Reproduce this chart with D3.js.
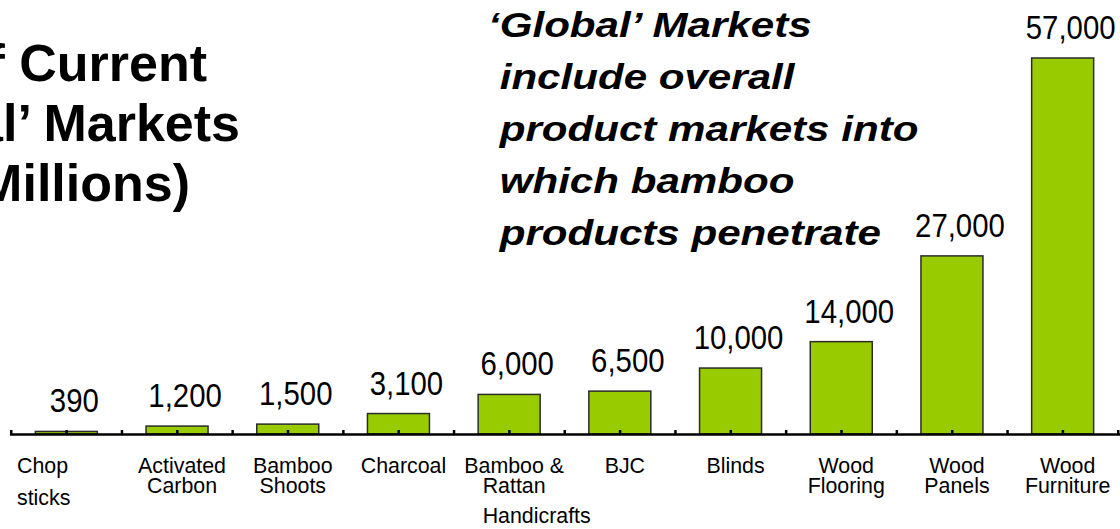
<!DOCTYPE html>
<html>
<head>
<meta charset="utf-8">
<script src="https://cdn.jsdelivr.net/npm/d3@7"></script>
<style>
  html, body { margin: 0; padding: 0; background: #fff; }
  svg { display: block; }
</style>
</head>
<body>
<svg id="chart" width="1120" height="529"></svg>
<script>
// ---- data ----
const categories = ["Chop sticks", "Activated Carbon", "Bamboo Shoots", "Charcoal", "Bamboo & Rattan Handicrafts", "BJC", "Blinds", "Wood Flooring", "Wood Panels", "Wood Furniture"];
const categoryLines = [["Chop", "sticks"], ["Activated", "Carbon"], ["Bamboo", "Shoots"], ["Charcoal"], ["Bamboo &", "Rattan", "Handicrafts"], ["BJC"], ["Blinds"], ["Wood", "Flooring"], ["Wood", "Panels"], ["Wood", "Furniture"]];
const marketValues = [390, 1200, 1500, 3100, 6000, 6500, 10000, 14000, 27000, 57000];
const valueLabels = ["390", "1,200", "1,500", "3,100", "6,000", "6,500", "10,000", "14,000", "27,000", "57,000"];
const titleLines = ["Size of Current", "\u2018Global\u2019 Markets", "(US$ Millions)"];
const noteLines = ["\u2018Global\u2019 Markets", " include overall", " product markets into", " which bamboo", " products penetrate"];

// ---- layout ----
const svg = d3.select("#chart");
const baseY = 434;
const sans = "'Liberation Sans', Arial, sans-serif";
const sxVal = 0.89;   // condensed look for value labels
const sxCat = 0.93;   // condensed look for category labels

const x = d3.scaleBand().domain(categories).range([11, 1118]).padding(0);
const y = d3.scaleLinear().domain([0, 57000]).range([baseY, 58]);
const barW = 62;

// bars
svg.append("g").selectAll("rect").data(categories).join("rect")
  .attr("x", d => x(d) + x.bandwidth() / 2 - barW / 2)
  .attr("y", (d, i) => y(marketValues[i]))
  .attr("width", barW)
  .attr("height", (d, i) => baseY - y(marketValues[i]))
  .attr("fill", "#99cc00")
  .attr("stroke", "#2b2b2b")
  .attr("stroke-width", 1.5);

// axis line
svg.append("line").attr("x1", 10).attr("x2", 1120).attr("y1", baseY + 0.5).attr("y2", baseY + 0.5)
  .attr("stroke", "#000").attr("stroke-width", 2.5);

// ticks (boundaries and centres)
const tickXs = categories.map(c => x(c)).concat([x.range()[1]])
  .concat(categories.map(c => x(c) + x.bandwidth() / 2));
svg.append("g").selectAll("rect").data(tickXs).join("rect")
  .attr("x", d => d - 1).attr("y", baseY - 4).attr("width", 2.5).attr("height", 4).attr("fill", "#000");

// value labels
svg.append("g").selectAll("text").data(categories).join("text")
  .attr("transform", (d, i) => `translate(${x(d) + x.bandwidth() / 2 + 8},${y(marketValues[i]) - 19}) scale(${sxVal},1)`)
  .attr("text-anchor", "middle")
  .style("font-family", sans)
  .style("font-size", "33px")
  .text((d, i) => valueLabels[i]);

// category labels
const catG = svg.append("g").style("font-family", sans).style("font-size", "23px");
categories.forEach((c, i) => {
  const cx = x(c) + x.bandwidth() / 2 + 5;
  const lines = categoryLines[i];
  if (i === 0) {
    const bx = x(c) + 6;
    catG.append("text").attr("transform", `translate(${bx},473) scale(${sxCat},1)`).text(lines[0]);
    catG.append("text").attr("transform", `translate(${bx},505) scale(${sxCat},1)`).text(lines[1]);
  } else if (lines.length === 3) {
    catG.append("text").attr("transform", `translate(${cx},473) scale(${sxCat},1)`).attr("text-anchor", "middle").text(lines[0]);
    const t = catG.append("text").attr("transform", `translate(${cx},493) scale(${sxCat},1)`).attr("text-anchor", "middle").text(lines[1]);
    const w = t.node().getComputedTextLength() * sxCat;
    catG.append("text").attr("transform", `translate(${cx - w / 2},523) scale(${sxCat},1)`).text(lines[2]);
  } else {
    lines.forEach((l, j) => {
      catG.append("text").attr("transform", `translate(${cx},${473 + j * 20}) scale(${sxCat},1)`)
        .attr("text-anchor", "middle").text(l);
    });
  }
});

// title (cropped at left edge as in the reference)
const titleEnds = [207, 240, 190];
svg.append("g").selectAll("text").data(titleLines).join("text")
  .attr("x", (d, i) => titleEnds[i])
  .attr("y", (d, i) => 81 + i * 60)
  .attr("text-anchor", "end")
  .style("font-family", sans)
  .style("font-weight", "bold")
  .style("font-size", "52px")
  .text(d => d);

// annotation
svg.append("g").selectAll("text").data(noteLines).join("text")
  .attr("transform", (d, i) => `translate(488,${37 + i * 52}) scale(1.17,1)`)
  .attr("xml:space", "preserve")
  .style("white-space", "pre")
  .style("font-family", sans)
  .style("font-weight", "bold")
  .style("font-style", "italic")
  .style("font-size", "36px")
  .text(d => d);
</script>
</body>
</html>
